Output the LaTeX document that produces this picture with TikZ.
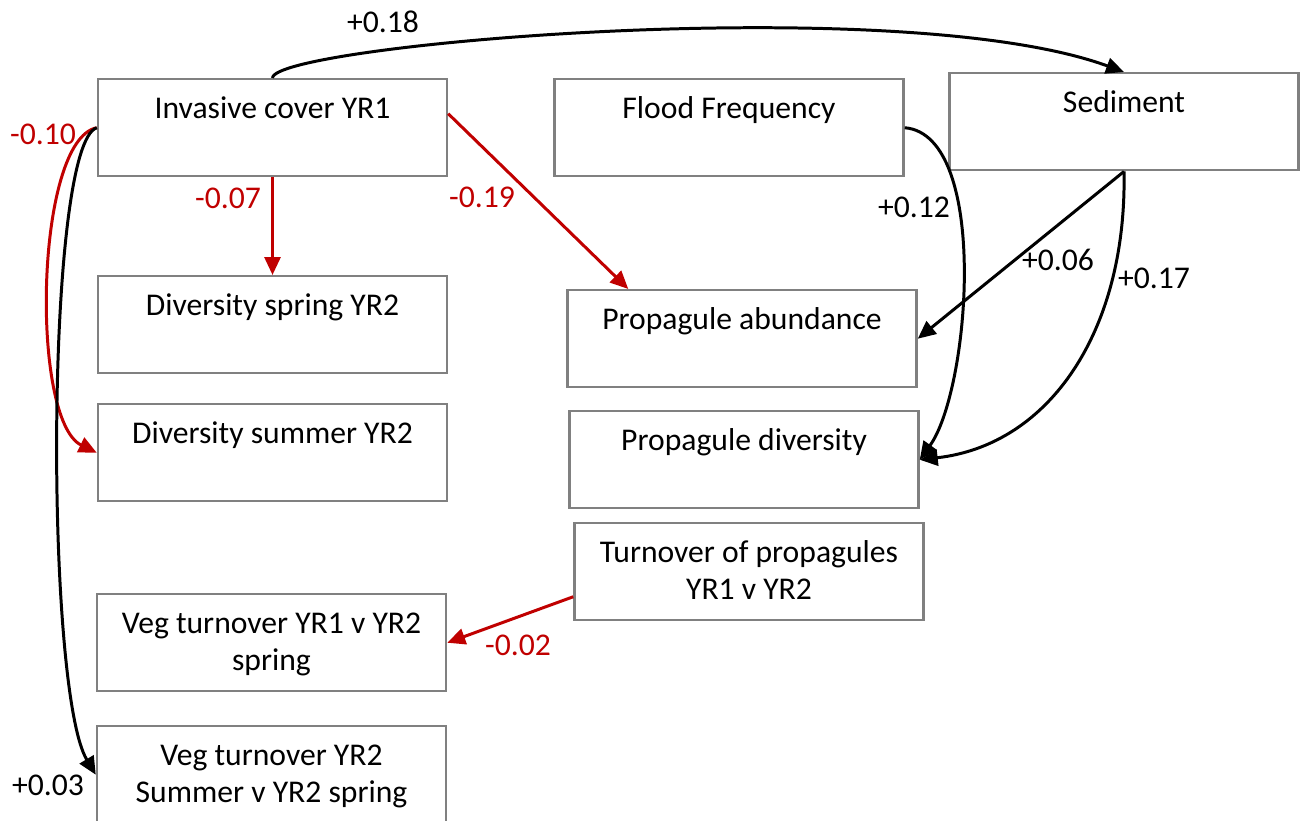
\documentclass[tikz,border=0pt]{standalone}
\usepackage{fontspec}
\setmainfont{Carlito}
\usetikzlibrary{arrows.meta}
\definecolor{negred}{RGB}{192,0,0}
\definecolor{boxgray}{RGB}{128,128,128}

\begin{document}
\begin{tikzpicture}[
    font=\fontsize{9}{10.5}\selectfont,
    varbox/.style={draw=boxgray, line width=0.7pt, anchor=north, align=center,
      minimum width=3.49cm, inner xsep=0pt, inner ysep=0pt,
      text height=0.39cm, text depth=0.58cm},
    twoline/.style={varbox, text height=0.76cm, text depth=0.21cm},
    posarrow/.style={color=black, line width=0.85pt,
      -{Triangle[length=0.18cm,width=0.16cm]}},
    negarrow/.style={posarrow, color=negred},
    poslabel/.style={text=black},
    neglabel/.style={text=negred},
  ]
  \useasboundingbox (0,0) rectangle (13.03,-8.20);
  \clip (0,0) rectangle (13.03,-8.20);

  %% variables
  \node[varbox] (inv) at (2.725,-0.78) {Invasive cover YR1};
  \node[varbox] (flood) at (7.29,-0.78) {Flood Frequency};
  \node[varbox] (sed) at (11.24,-0.72) {Sediment};
  \node[varbox] (divsp) at (2.725,-2.75) {Diversity spring YR2};
  \node[varbox] (divsu) at (2.725,-4.03) {Diversity summer YR2};
  \node[varbox] (propab) at (7.42,-2.89) {Propagule abundance};
  \node[varbox] (propdiv) at (7.44,-4.10) {Propagule diversity};
  \node[twoline] (turn) at (7.49,-5.22) {Turnover of propagules\\YR1 v YR2};
  \node[twoline] (vegA) at (2.715,-5.93) {Veg turnover YR1 v YR2\\spring};
  \node[twoline] (vegB) at (2.715,-7.25) {Veg turnover YR2\\Summer v YR2 spring};

  %% paths from invasive cover
  \draw[posarrow] (inv.north) .. controls (2.73,-0.45) and (9.0,0.1) .. (sed.north);
  \draw[negarrow] (inv.west) .. controls (0.35,-1.4) and (0.3,-4.2) .. (divsu.west);
  \draw[posarrow] (inv.west) .. controls (0.45,-1.45) and (0.45,-6.9) .. (vegB.west);
  \draw[negarrow] (inv.south) -- (divsp.north);
  \draw[negarrow] ([yshift=0.14cm]inv.east) -- ([xshift=0.62cm]propab.north west);
  %% flood and sediment
  \draw[posarrow] (flood.east) .. controls (9.9,-1.35) and (9.7,-3.9) .. (propdiv.east);
  \draw[posarrow] (sed.south) -- (propab.east);
  \draw[posarrow] (sed.south) .. controls (11.27,-3.3) and (10.5,-4.45) .. (propdiv.east);
  %% turnover
  \draw[negarrow] ([yshift=-0.25cm]turn.west) -- (vegA.east);

  %% coefficients
  \node[poslabel] (c018) at (3.83,-0.22) {+0.18};
  \node[neglabel] (c010) at (0.43,-1.34) {-0.10};
  \node[neglabel] (c007) at (2.28,-1.98) {-0.07};
  \node[neglabel] (c019) at (4.82,-1.97) {-0.19};
  \node[poslabel] (c012) at (9.14,-2.07) {+0.12};
  \node[poslabel] (c006) at (10.58,-2.60) {+0.06};
  \node[poslabel] (c017) at (11.54,-2.78) {+0.17};
  \node[neglabel] (c002) at (5.18,-6.45) {-0.02};
  \node[poslabel] (c003) at (0.48,-7.85) {+0.03};
\end{tikzpicture}
\end{document}
